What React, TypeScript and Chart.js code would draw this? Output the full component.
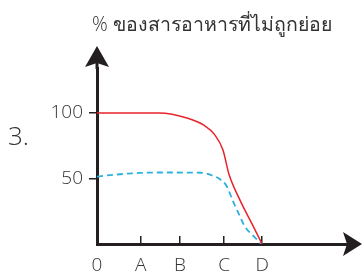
import React, { useEffect, useRef } from "react";
import { Chart, registerables } from "chart.js";

Chart.register(...registerables);

const titleText = "% ของสารอาหารที่ไม่ถูกย่อย";
const sideLabel = "3.";

const xTickPositions = [0, 1.06, 2.01, 3.08, 4];
const xTickLabels = ["0", "A", "B", "C", "D"];
const yTickValues = [50, 100];
const yTickLabels = ["50", "100"];

const redX = [0, 1.5, 2.2, 2.6, 2.85, 3.05, 3.2, 3.45, 3.75, 4];
const redY = [100, 100, 96, 90.5, 83.5, 72, 53, 34.5, 15.7, 0];

const blueX = [0, 0.32, 1.04, 1.69, 2.5, 2.82, 2.98, 3.14, 3.3, 3.43, 3.59, 3.79, 3.98];
const blueY = [51.5, 52.6, 54.3, 54.6, 54.4, 52, 49.4, 44.3, 32.3, 23.4, 13, 6.2, 0];

const INK = "#231f20";
const TEXT = "#333333";
const FONT = '"Open Sans", "Noto Sans", sans-serif';

const decorPlugin = {
  id: "decor",
  afterDraw(chart: any) {
    const { ctx, chartArea } = chart;
    const { left, top, right, bottom } = chartArea;
    ctx.save();
    ctx.fillStyle = INK;
    ctx.strokeStyle = INK;
    ctx.lineWidth = 3;
    ctx.beginPath();
    ctx.moveTo(left, top + 1);
    ctx.lineTo(left, top - 10);
    ctx.stroke();
    // y arrow
    ctx.beginPath();
    ctx.moveTo(left, top - 22);
    ctx.lineTo(left + 12, top - 1);
    ctx.lineTo(left, top - 5);
    ctx.lineTo(left - 12, top - 1);
    ctx.closePath();
    ctx.fill();
    // x arrow
    ctx.beginPath();
    ctx.moveTo(right + 12, bottom);
    ctx.lineTo(right - 7, bottom - 12);
    ctx.lineTo(right - 3, bottom);
    ctx.lineTo(right - 7, bottom + 12);
    ctx.closePath();
    ctx.fill();
    // title
    ctx.fillStyle = TEXT;
    ctx.font = `300 19.5px ${FONT}`;
    ctx.textBaseline = "middle";
    ctx.textAlign = "center";
    ctx.fillText(titleText, 212, 25);
    // side label
    ctx.font = `300 26px ${FONT}`;
    ctx.textAlign = "left";
    ctx.fillText(sideLabel, 8, 138);
    ctx.restore();
  },
};

export default function App() {
  const ref = useRef<HTMLCanvasElement | null>(null);
  useEffect(() => {
    if (!ref.current) return;
    const chart = new Chart(ref.current, {
      type: "line",
      data: {
        datasets: [
          {
            data: redX.map((x, i) => ({ x, y: redY[i] })),
            borderColor: "#e8232b",
            borderWidth: 1.5,
            pointRadius: 0,
            cubicInterpolationMode: "monotone",
            fill: false,
          },
          {
            data: blueX.map((x, i) => ({ x, y: blueY[i] })),
            borderColor: "#2cb1df",
            borderWidth: 1.8,
            borderDash: [6, 4],
            pointRadius: 0,
            cubicInterpolationMode: "monotone",
            fill: false,
          },
        ],
      },
      options: {
        animation: false,
        responsive: false,
        maintainAspectRatio: false,
        layout: { padding: { left: 0, right: 12, top: 68, bottom: 0 } },
        plugins: {
          legend: { display: false },
          tooltip: { enabled: false },
          title: { display: false },
        },
        scales: {
          x: {
            type: "linear",
            min: 0,
            max: 6.13,
            afterBuildTicks: (s: any) => {
              s.ticks = xTickPositions.map((v) => ({ value: v }));
            },
            afterFit: (s: any) => {
              s.height = 31;
            },
            ticks: {
              autoSkip: false,
              maxRotation: 0,
              padding: 18,
              color: TEXT,
              font: { family: FONT, size: 19, weight: "300" as any },
              callback: (_v: any, i: number) => xTickLabels[i],
            },
            grid: {
              drawOnChartArea: false,
              tickLength: -8,
              color: INK,
              lineWidth: 1.5,
            },
            border: { color: INK, width: 3 },
          },
          y: {
            type: "linear",
            min: 0,
            max: 134.4,
            afterBuildTicks: (s: any) => {
              s.ticks = yTickValues.map((v) => ({ value: v }));
            },
            afterFit: (s: any) => {
              s.width = 97;
            },
            ticks: {
              autoSkip: false,
              padding: 6,
              color: TEXT,
              font: { family: FONT, size: 19, weight: "300" as any },
              callback: (_v: any, i: number) => yTickLabels[i],
            },
            grid: {
              drawOnChartArea: false,
              tickLength: 8,
              color: INK,
              lineWidth: 1.5,
            },
            border: { color: INK, width: 3 },
          },
        },
      },
      plugins: [decorPlugin],
    });
    return () => chart.destroy();
  }, []);
  return (
    <div style={{ position: "fixed", left: 0, top: 0, width: 362, height: 275, background: "#fff" }}>
      <canvas ref={ref} width={362} height={275} style={{ display: "block", width: 362, height: 275 }} />
    </div>
  );
}
